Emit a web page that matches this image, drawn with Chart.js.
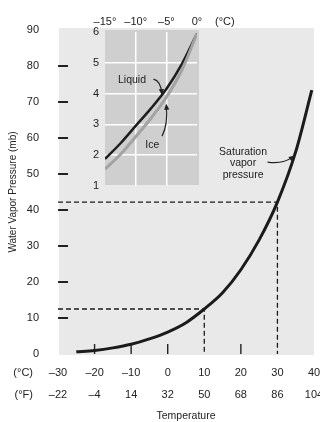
<!DOCTYPE html>
<html>
<head>
<meta charset="utf-8">
<script src="https://cdn.jsdelivr.net/npm/chart.js@4.4.0/dist/chart.umd.min.js"></script>
<style>
  html, body { margin: 0; padding: 0; background: #fff; }
  #wrap { position: relative; width: 320px; height: 422px; }
  #main { position: absolute; left: 0; top: 0; }
  #inset { position: absolute; left: 70px; top: 0; }
</style>
</head>
<body>
<div id="wrap">
  <canvas id="main" width="320" height="422"></canvas>
  <canvas id="inset" width="180" height="200"></canvas>
</div>
<script>
// main curve: saturation vapor pressure (mb) against temperature (°C)
const TEMP_C = [-25, -20, -15, -10, -5, 0, 5, 10, 15, 20, 25, 30, 35, 39.4]
const SAT_MB = [0.6, 1.0, 1.7, 2.7, 4.2, 6.1, 8.7, 12.5, 17.0, 23.4, 31.7, 42.2, 56.2, 73.3]

// dashed guides
const GUIDE_C = [10, 30]
const GUIDE_MB = [12.5, 42.2]

// axis tick labels
const TICK_C = [-30, -20, -10, 0, 10, 20, 30, 40]
const TICK_F = [-22, -4, 14, 32, 50, 68, 86, 104]
const MARK_C = [-20, -10, 0, 20]          // short tick marks along the bottom
const MARK_MB = [10, 20, 30, 40, 50, 60, 70, 80]

// inset: below freezing, over liquid water and over ice
const INSET_C = [-15, -12.5, -10, -7.5, -5, -2.5, 0]
const LIQUID_MB = [1.88, 2.38, 2.95, 3.52, 4.15, 4.95, 5.95]
const ICE_MB = [1.55, 2.02, 2.6, 3.2, 3.88, 4.75, 5.95]
const INSET_TICKS = [-15, -10, -5, 0]

const FONT = "'Liberation Sans', Arial, Helvetica, sans-serif"
const INK = "#222"

const dash = v => (v < 0 ? "\u2013" + Math.abs(v) : String(v))

function arrow(ctx, p0, c, p1) {
  ctx.save()
  ctx.strokeStyle = INK
  ctx.fillStyle = INK
  ctx.lineWidth = 1.2
  ctx.beginPath()
  ctx.moveTo(p0.x, p0.y)
  ctx.quadraticCurveTo(c.x, c.y, p1.x, p1.y)
  ctx.stroke()
  const a = Math.atan2(p1.y - c.y, p1.x - c.x)
  ctx.beginPath()
  ctx.moveTo(p1.x + Math.cos(a) * 1.5, p1.y + Math.sin(a) * 1.5)
  ctx.lineTo(p1.x - Math.cos(a) * 4.5 - Math.sin(a) * 2.6, p1.y - Math.sin(a) * 4.5 + Math.cos(a) * 2.6)
  ctx.lineTo(p1.x - Math.cos(a) * 4.5 + Math.sin(a) * 2.6, p1.y - Math.sin(a) * 4.5 - Math.cos(a) * 2.6)
  ctx.closePath()
  ctx.fill()
  ctx.restore()
}

// point in data space -> canvas pixels
const px = (chart, x, y) => ({ x: chart.scales.x.getPixelForValue(x), y: chart.scales.y.getPixelForValue(y) })

const noPad = s => { s.paddingLeft = 0; s.paddingRight = 0; s.paddingTop = 0; s.paddingBottom = 0 }

const mainDecor = {
  id: "mainDecor",
  beforeDraw(chart) {
    const { ctx, chartArea: a } = chart
    ctx.save()
    ctx.fillStyle = "#e9e9e9"
    ctx.fillRect(a.left + 1, a.top - 2, a.right - a.left - 1, a.bottom - a.top + 3)
    ctx.restore()
  },
  beforeDatasetsDraw(chart) {
    const { ctx, chartArea: a, scales } = chart
    ctx.save()
    ctx.strokeStyle = INK
    ctx.lineWidth = 2
    MARK_MB.forEach(v => {
      const y = Math.round(scales.y.getPixelForValue(v))
      ctx.beginPath(); ctx.moveTo(a.left, y); ctx.lineTo(a.left + 10, y); ctx.stroke()
    })
    ctx.lineWidth = 1.4
    MARK_C.forEach(v => {
      const x = scales.x.getPixelForValue(v)
      ctx.beginPath(); ctx.moveTo(x, a.bottom); ctx.lineTo(x, a.bottom - 10); ctx.stroke()
    })
    ctx.restore()
  },
  afterDraw(chart) {
    const { ctx, scales } = chart
    ctx.save()
    ctx.fillStyle = INK
    ctx.font = "11px " + FONT
    ctx.textAlign = "right"
    ctx.textBaseline = "middle"
    const row = scales.x.top + 19
    ctx.fillText("(\u00b0C)", 33, row)
    ctx.fillText("(\u00b0F)", 33, row + 22)

    ctx.font = "10.5px " + FONT
    ctx.textAlign = "center"
    const lines = [["Saturation", 56.2], ["vapor", 53.0], ["pressure", 49.7]]
    lines.forEach(([t, y]) => {
      const p = px(chart, 20.6, y)
      ctx.fillText(t, p.x, p.y)
    })
    ctx.restore()
    arrow(ctx, px(chart, 27.3, 53.3), px(chart, 31.4, 52.6), px(chart, 34.4, 54.9))
  },
}

new Chart(document.getElementById("main"), {
  type: "line",
  data: {
    datasets: [
      {
        data: TEMP_C.map((t, i) => ({ x: t, y: SAT_MB[i] })),
        borderColor: "#1b1b1b",
        borderWidth: 3,
        pointRadius: 0,
        cubicInterpolationMode: "monotone",
      },
      ...GUIDE_C.map((t, i) => ({
        data: [{ x: -30, y: GUIDE_MB[i] }, { x: t, y: GUIDE_MB[i] }, { x: t, y: 0 }],
        borderColor: "#1b1b1b",
        borderWidth: 1.3,
        borderDash: [5, 3],
        pointRadius: 0,
        tension: 0,
      })),
    ],
  },
  options: {
    responsive: false,
    animation: false,
    events: [],
    layout: { padding: { top: 30, right: 6, left: 0, bottom: 0 } },
    plugins: { legend: { display: false }, tooltip: { enabled: false } },
    scales: {
      x: {
        type: "linear",
        min: -30,
        max: 40,
        afterFit: s => { s.height = 68; noPad(s) },
        afterBuildTicks: s => { s.ticks = TICK_C.map(v => ({ value: v })) },
        grid: { display: false },
        border: { display: false },
        ticks: {
          padding: 0,
          autoSkip: false,
          maxRotation: 0,
          color: INK,
          font: { family: FONT, size: 11, lineHeight: 2 },
          callback: v => [dash(v), dash(TICK_F[TICK_C.indexOf(v)])],
        },
        title: {
          display: true,
          text: "Temperature",
          color: INK,
          font: { family: FONT, size: 10.5 },
          padding: { top: 0, bottom: 0 },
        },
      },
      y: {
        min: 0,
        max: 90,
        afterFit: s => { s.width = 58; noPad(s) },
        grid: { display: false },
        border: { display: false },
        ticks: { stepSize: 10, padding: 11, color: INK, font: { family: FONT, size: 11 } },
        title: {
          display: true,
          text: "Water Vapor Pressure (mb)",
          color: INK,
          font: { family: FONT, size: 10 },
          padding: { top: 7, bottom: 0 },
        },
      },
    },
  },
  plugins: [mainDecor],
})

const insetDecor = {
  id: "insetDecor",
  beforeDraw(chart) {
    const { ctx, chartArea: a } = chart
    ctx.save()
    ctx.fillStyle = "#cfcfcf"
    ctx.fillRect(a.left, a.top - 2, a.right - a.left + 2, a.bottom - a.top + 1)
    ctx.restore()
  },
  afterDraw(chart) {
    const { ctx, scales } = chart
    ctx.save()
    ctx.fillStyle = INK
    ctx.font = "11px " + FONT
    ctx.textAlign = "left"
    ctx.textBaseline = "middle"
    ctx.fillText("(\u00b0C)", scales.x.getPixelForValue(0) + 18, scales.x.bottom - 10)

    ctx.font = "10.5px " + FONT
    ctx.textAlign = "center"
    let p = px(chart, -10.6, 4.44)
    ctx.fillText("Liquid", p.x, p.y)
    p = px(chart, -7.3, 2.33)
    ctx.fillText("Ice", p.x, p.y)
    ctx.restore()
    arrow(ctx, px(chart, -7.1, 4.47), px(chart, -5.9, 4.42), px(chart, -5.75, 4.0))
    arrow(ctx, px(chart, -5.7, 2.62), px(chart, -4.7, 3.0), px(chart, -5.0, 3.62))
  },
}

const edgeless = c => (c.tick && (c.index === 0 || c.index === c.scale.ticks.length - 1) ? "rgba(0,0,0,0)" : "#fff")

new Chart(document.getElementById("inset"), {
  type: "line",
  data: {
    datasets: [
      {
        data: INSET_C.map((t, i) => ({ x: t, y: ICE_MB[i] })),
        borderColor: "#a3a3a3",
        borderWidth: 3,
        pointRadius: 0,
        cubicInterpolationMode: "monotone",
      },
      {
        data: INSET_C.map((t, i) => ({ x: t, y: LIQUID_MB[i] })),
        borderColor: "#1e1e1e",
        borderWidth: 2.5,
        pointRadius: 0,
        cubicInterpolationMode: "monotone",
      },
    ],
  },
  options: {
    responsive: false,
    animation: false,
    events: [],
    layout: { padding: { top: 0, right: 53, left: 0, bottom: 14 } },
    plugins: { legend: { display: false }, tooltip: { enabled: false } },
    scales: {
      x: {
        type: "linear",
        position: "top",
        min: -15,
        max: 0,
        afterFit: s => { s.height = 32; noPad(s) },
        afterBuildTicks: s => { s.ticks = INSET_TICKS.map(v => ({ value: v })) },
        grid: { color: edgeless, lineWidth: 1.5, drawTicks: false },
        border: { display: false },
        ticks: {
          padding: 3,
          autoSkip: false,
          maxRotation: 0,
          color: INK,
          font: { family: FONT, size: 11 },
          callback: v => dash(v) + "\u00b0",
        },
      },
      y: {
        min: 1,
        max: 6,
        afterFit: s => { s.width = 35; noPad(s) },
        grid: { color: edgeless, lineWidth: 1.5, drawTicks: false },
        border: { display: false },
        ticks: { stepSize: 1, padding: 6, color: INK, font: { family: FONT, size: 11 } },
      },
    },
  },
  plugins: [insetDecor],
})
</script>
</body>
</html>
